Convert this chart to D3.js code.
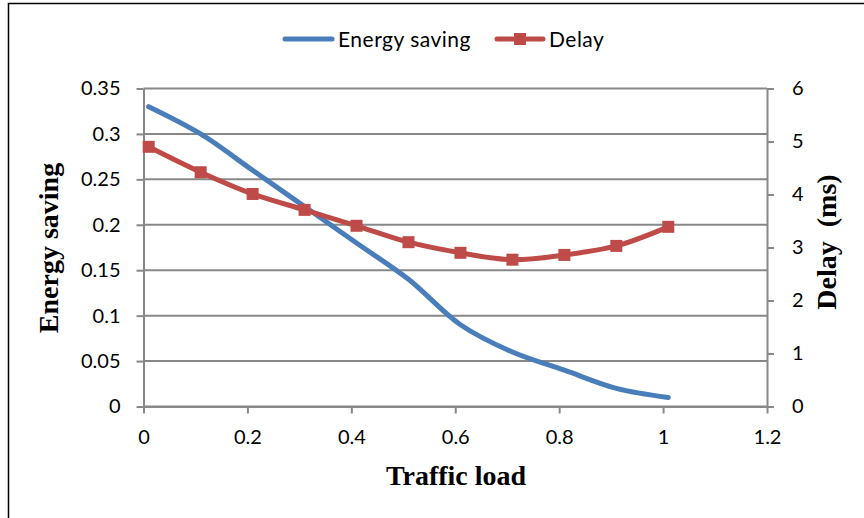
<!DOCTYPE html>
<html>
<head>
<meta charset="utf-8" />
<title>Energy saving and delay vs traffic load</title>
<style>
    body { margin: 0; background: #fff; }
    svg { display: block; }
    .tick text { font-family: Lato, "Open Sans", sans-serif; font-size: 20px; fill: #000; }
    .axis-title { font-family: "Liberation Serif", "Times New Roman", serif; font-weight: bold; font-size: 28px; fill: #000; white-space: pre; }
    .legend text { font-family: Lato, "Open Sans", sans-serif; font-size: 21px; letter-spacing: 0.5px; fill: #000; }
</style>
</head>
<body>
<svg id="chart"></svg>
<script src="https://cdn.jsdelivr.net/npm/d3@7"></script>
<script>
    // data
    var loads = [0.01, 0.11, 0.21, 0.31, 0.41, 0.51, 0.61, 0.71, 0.81, 0.91, 1.01];
    var energySaving = [0.33, 0.30, 0.26, 0.22, 0.18, 0.14, 0.09, 0.06, 0.04, 0.02, 0.01];
    var delayMs = [4.9, 4.42, 4.01, 3.71, 3.41, 3.1, 2.9, 2.77, 2.86, 3.03, 3.39];
    var xTicks = [0, 0.2, 0.4, 0.6, 0.8, 1, 1.2];
    var leftTicks = [0, 0.05, 0.1, 0.15, 0.2, 0.25, 0.3, 0.35];
    var rightTicks = [0, 1, 2, 3, 4, 5, 6];

    var W = 864, H = 518;
    var blue = "#4A7EBB", red = "#BE4B48", grid = "#888888";

    var svg = d3.select("#chart").attr("width", W).attr("height", H);

    // outer frame (clipped at right / bottom like the source)
    svg.append("rect")
        .attr("x", 8.5).attr("y", 3.5)
        .attr("width", W + 20).attr("height", H + 20)
        .attr("fill", "none").attr("stroke", "#000").attr("stroke-width", 1.5);

    var x = d3.scaleLinear().domain([0, 1.2]).range([143.5, 767]);
    var yL = d3.scaleLinear().domain([0, 0.35]).range([406.5, 88.5]);
    var yR = d3.scaleLinear().domain([0, 6]).range([406.5, 88.5]);

    // gridlines
    svg.append("g").selectAll("line")
        .data(leftTicks)
        .enter().append("line")
        .attr("x1", x(0)).attr("x2", x(1.2))
        .attr("y1", function(d) { return yL(d); })
        .attr("y2", function(d) { return yL(d); })
        .attr("stroke", grid).attr("stroke-width", 2);

    function styleAxis(g) {
        g.select(".domain").attr("stroke", grid).attr("stroke-width", 2);
        g.selectAll(".tick line").attr("stroke", grid).attr("stroke-width", 2);
    }

    svg.append("g")
        .attr("transform", "translate(" + x(0) + ",0)")
        .call(d3.axisLeft(yL).tickValues(leftTicks).tickSize(7).tickSizeOuter(0).tickPadding(16)
            .tickFormat(function(d) { return String(+d.toFixed(2)); }))
        .call(styleAxis);

    svg.append("g")
        .attr("transform", "translate(" + x(1.2) + ",0)")
        .call(d3.axisRight(yR).tickValues(rightTicks).tickSize(7).tickSizeOuter(0).tickPadding(18)
            .tickFormat(function(d) { return String(d); }))
        .call(styleAxis);

    svg.append("g")
        .attr("transform", "translate(0," + yL(0) + ")")
        .call(d3.axisBottom(x).tickValues(xTicks).tickSize(7).tickSizeOuter(0).tickPadding(16)
            .tickFormat(function(d) { return String(+d.toFixed(1)); }))
        .call(styleAxis);

    // axis titles
    svg.append("text").attr("class", "axis-title")
        .attr("x", 456).attr("y", 485)
        .attr("text-anchor", "middle").text("Traffic load");

    svg.append("text").attr("class", "axis-title")
        .attr("transform", "translate(58,248) rotate(-90)")
        .attr("text-anchor", "middle").text("Energy saving");

    svg.append("text").attr("class", "axis-title")
        .attr("transform", "translate(836,242) rotate(-90)")
        .attr("text-anchor", "middle").text("Delay  (ms)");

    // series
    var energyLine = d3.line()
        .x(function(d, i) { return x(loads[i]); })
        .y(function(d) { return yL(d); })
        .curve(d3.curveCatmullRom);

    var delayLine = d3.line()
        .x(function(d, i) { return x(loads[i]); })
        .y(function(d) { return yR(d); })
        .curve(d3.curveCatmullRom);

    svg.append("path").datum(energySaving)
        .attr("d", energyLine)
        .attr("fill", "none").attr("stroke", blue)
        .attr("stroke-width", 5).attr("stroke-linecap", "round");

    svg.append("path").datum(delayMs)
        .attr("d", delayLine)
        .attr("fill", "none").attr("stroke", red)
        .attr("stroke-width", 5);

    var ms = 12;
    svg.append("g").selectAll("rect")
        .data(delayMs)
        .enter().append("rect")
        .attr("x", function(d, i) { return x(loads[i]) - ms / 2; })
        .attr("y", function(d) { return yR(d) - ms / 2; })
        .attr("width", ms).attr("height", ms)
        .attr("fill", red);

    // legend
    var legend = svg.append("g").attr("class", "legend");
    legend.append("line")
        .attr("x1", 285).attr("x2", 332).attr("y1", 39).attr("y2", 39)
        .attr("stroke", blue).attr("stroke-width", 5).attr("stroke-linecap", "round");
    legend.append("text").attr("x", 338).attr("y", 47).text("Energy saving");
    legend.append("line")
        .attr("x1", 497).attr("x2", 543).attr("y1", 39).attr("y2", 39)
        .attr("stroke", red).attr("stroke-width", 5).attr("stroke-linecap", "round");
    legend.append("rect")
        .attr("x", 520 - ms / 2).attr("y", 39 - ms / 2)
        .attr("width", ms).attr("height", ms).attr("fill", red);
    legend.append("text").attr("x", 549).attr("y", 47).text("Delay");
</script>
</body>
</html>
